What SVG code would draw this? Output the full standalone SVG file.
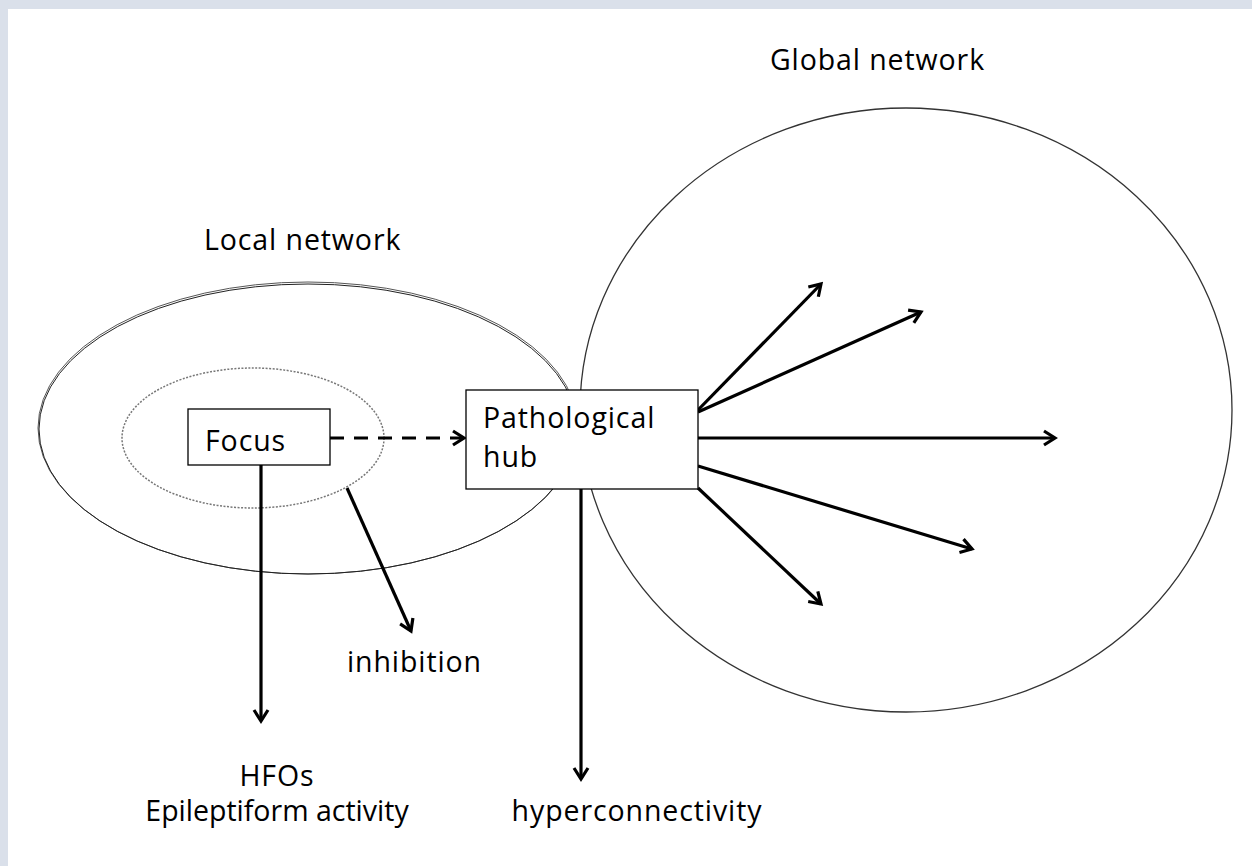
<svg xmlns="http://www.w3.org/2000/svg" width="1252" height="866" viewBox="0 0 1252 866">
<defs>
<style>
.t{font-family:"Open Sans",Lato,"Liberation Sans",sans-serif;font-size:28.5px;letter-spacing:0.9px;fill:#000}
.tight{letter-spacing:0}
.box{fill:#fff;stroke:#000;stroke-width:1.3}
.ln{stroke:#000;stroke-width:3.2;fill:none}
.dash{stroke:#000;stroke-width:3.2;fill:none;stroke-dasharray:14 10}
</style>
<marker id="ah" viewBox="0 0 18 18" refX="15" refY="9" markerWidth="18" markerHeight="18" markerUnits="userSpaceOnUse" orient="auto">
<path d="M4,2 L15,9 L4,16" fill="none" stroke="#000" stroke-width="3.2"/>
</marker>
</defs>
<rect x="0" y="0" width="1252" height="866" fill="#fff"/>
<rect x="0" y="0" width="1252" height="9" fill="#dae0ea"/>
<rect x="0" y="0" width="8" height="866" fill="#dae0ea"/>
<g id="global-network">
<ellipse cx="906" cy="410" rx="326" ry="302" fill="none" stroke="#333" stroke-width="1.3"/>
<text class="t" x="770" y="70">Global network</text>
</g>
<g id="local-network">
<ellipse cx="308" cy="428" rx="270" ry="146" fill="none" stroke="#555" stroke-width="1"/>
<ellipse cx="308" cy="429" rx="269" ry="145" fill="none" stroke="#222" stroke-width="1"/>
<text class="t" x="204" y="250">Local network</text>
</g>
<g id="focus-region">
<ellipse cx="253" cy="438" rx="131" ry="70" fill="none" stroke="#777" stroke-width="1.5" stroke-dasharray="2 1.5"/>
</g>
<g id="connectors">
<line class="dash" x1="330" y1="438" x2="464" y2="438" marker-end="url(#ah)"/>
<line class="ln" x1="261" y1="465" x2="261" y2="721" marker-end="url(#ah)"/>
<line class="ln" x1="347" y1="488" x2="411" y2="631" marker-end="url(#ah)"/>
<line class="ln" x1="581" y1="489" x2="581" y2="779" marker-end="url(#ah)"/>
<line class="ln" x1="698" y1="410" x2="821" y2="284" marker-end="url(#ah)"/>
<line class="ln" x1="698" y1="412" x2="921" y2="312" marker-end="url(#ah)"/>
<line class="ln" x1="698" y1="438" x2="1055" y2="438" marker-end="url(#ah)"/>
<line class="ln" x1="698" y1="466" x2="972" y2="549" marker-end="url(#ah)"/>
<line class="ln" x1="698" y1="488" x2="821" y2="604" marker-end="url(#ah)"/>
</g>
<g id="focus">
<rect class="box" x="188" y="409" width="142" height="56"/>
<text class="t" x="205" y="451">Focus</text>
</g>
<g id="hub">
<rect class="box" x="466" y="390" width="232" height="99"/>
<text class="t" x="483" y="428">Pathological</text>
<text class="t" x="483" y="467">hub</text>
</g>
<g id="labels">
<text class="t" x="347" y="672">inhibition</text>
<text class="t" x="277" y="786" text-anchor="middle">HFOs</text>
<text class="t tight" x="277" y="821" text-anchor="middle">Epileptiform activity</text>
<text class="t" x="637" y="821" text-anchor="middle">hyperconnectivity</text>
</g>
</svg>
